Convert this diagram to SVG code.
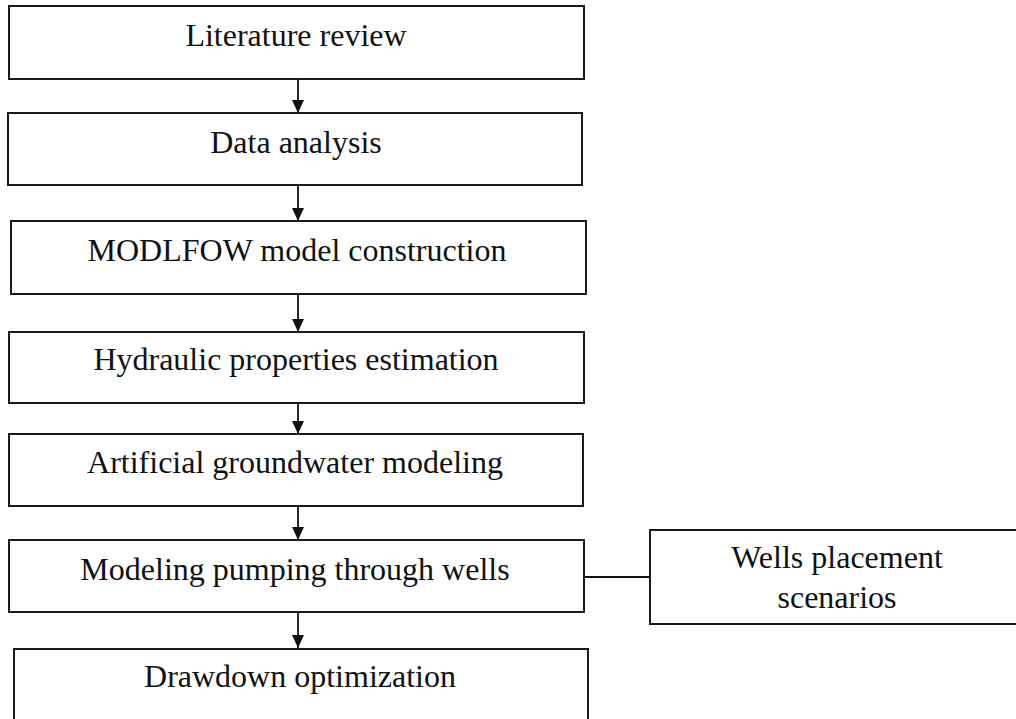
<svg xmlns="http://www.w3.org/2000/svg" width="1016" height="719" viewBox="0 0 1016 719">
<style>
.box{fill:#fff;stroke:#1a1a1a;stroke-width:2}
.lbl{font-family:"Liberation Serif","Times New Roman",serif;font-size:32px;fill:#111;text-anchor:middle}
.con{stroke:#111;stroke-width:1.8;fill:none}
</style>
<defs>
<marker id="ah" viewBox="0 0 13 12" refX="13" refY="6" markerWidth="13" markerHeight="12" markerUnits="userSpaceOnUse" orient="auto">
<path d="M0,0 L13,6 L0,12 Z" fill="#111"/>
</marker>
</defs>
<rect width="1016" height="719" fill="#fff"/>
<g id="n1"><rect class="box" x="9" y="6" width="575" height="73"/><text class="lbl" x="296" y="46">Literature review</text></g>
<g id="n2"><rect class="box" x="8" y="113" width="574" height="72"/><text class="lbl" x="296" y="153">Data analysis</text></g>
<g id="n3"><rect class="box" x="11" y="221" width="575" height="73"/><text class="lbl" x="297" y="261">MODLFOW model construction</text></g>
<g id="n4"><rect class="box" x="9" y="332" width="575" height="71"/><text class="lbl" x="296" y="370">Hydraulic properties estimation</text></g>
<g id="n5"><rect class="box" x="9" y="434" width="574" height="72"/><text class="lbl" x="295" y="473">Artificial groundwater modeling</text></g>
<g id="n6"><rect class="box" x="9" y="540" width="575" height="72"/><text class="lbl" x="295" y="580">Modeling pumping through wells</text></g>
<g id="n7"><rect class="box" x="14" y="649" width="574" height="90"/><text class="lbl" x="300" y="687">Drawdown optimization</text></g>
<g id="n8"><rect class="box" x="650" y="530" width="380" height="94"/><text class="lbl" x="837" y="568">Wells placement</text><text class="lbl" x="837" y="608">scenarios</text></g>
<g id="connectors">
<line class="con" x1="298" y1="79" x2="298" y2="113" marker-end="url(#ah)"/>
<line class="con" x1="298" y1="185" x2="298" y2="221" marker-end="url(#ah)"/>
<line class="con" x1="298" y1="294" x2="298" y2="332" marker-end="url(#ah)"/>
<line class="con" x1="298" y1="403" x2="298" y2="434" marker-end="url(#ah)"/>
<line class="con" x1="298" y1="506" x2="298" y2="540" marker-end="url(#ah)"/>
<line class="con" x1="298" y1="612" x2="298" y2="648" marker-end="url(#ah)"/>
<line class="con" x1="584" y1="577" x2="650" y2="577"/>
</g>
</svg>
